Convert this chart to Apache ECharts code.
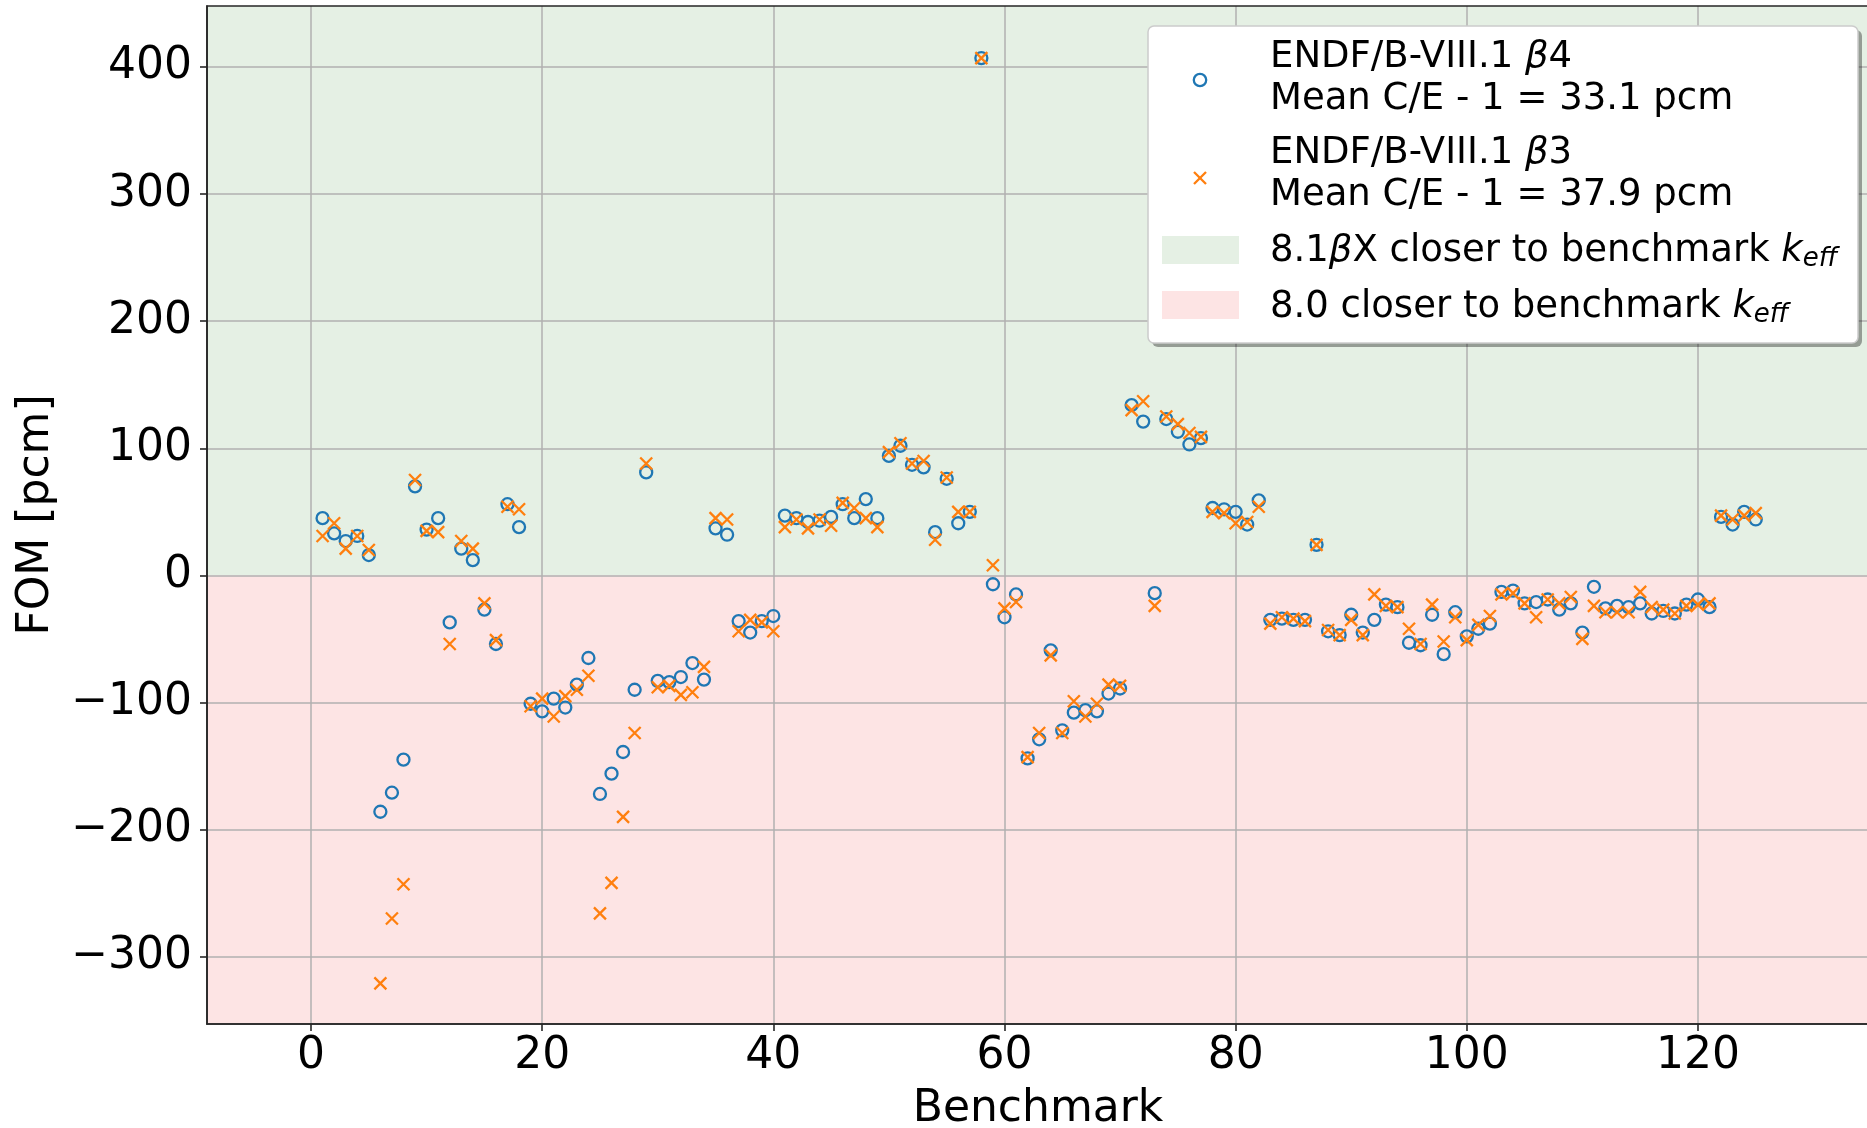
<!DOCTYPE html>
<html>
<head>
<meta charset="utf-8">
<script src="https://cdn.jsdelivr.net/npm/echarts@6/dist/echarts.min.js"></script>
<style>
html,body{margin:0;padding:0;background:#ffffff;}
#chart{width:1867px;height:1128px;}
</style>
</head>
<body>
<div id="chart"></div>
<script>
// ---------------- data ----------------
const benchmarks = [1,2,3,4,5,6,7,8,9,10,11,12,13,14,15,16,17,18,19,20,21,22,23,24,25,26,27,28,29,30,31,32,33,34,35,36,37,38,39,40,41,42,43,44,45,46,47,48,49,50,51,52,53,54,55,56,57,58,59,60,61,62,63,64,65,66,67,68,69,70,71,72,73,74,75,76,77,78,79,80,81,82,83,84,85,86,87,88,89,90,91,92,93,94,95,96,97,98,99,100,101,102,103,104,105,106,107,108,109,110,111,112,113,114,115,116,117,118,119,120,121,122,123,124,125];

const beta4 = [45,33,27,31,16,-186,-171,-145,70,36,45,-37,21,12,-27,-54,56,38,-101,-107,
  -97,-104,-86,-65,-172,-156,-139,-90,81,-83,-84,-80,-69,-82,37,32,-36,-45,-36,-32,
  47,45,42,43,46,56,45,60,45,94,102,87,85,34,76,41,50,407,-7,-33,
  -15,-144,-129,-59,-122,-108,-106,-107,-93,-89,134,121,-14,123,113,103,108,53,52,50,
  40,59,-35,-34,-35,-35,24,-44,-47,-31,-45,-35,-23,-25,-53,-55,-31,-62,-29,-48,
  -42,-38,-13,-12,-22,-21,-19,-27,-22,-45,-9,-26,-24,-25,-22,-30,-28,-30,-23,-19,
  -25,46,40,50,44];

const beta3 = [31,41,21,31,20,-321,-270,-243,75,35,34,-54,27,21,-22,-51,54,52,-103,-97,
  -111,-95,-90,-79,-266,-242,-190,-124,88,-88,-87,-94,-92,-72,45,44,-44,-35,-37,-44,
  38,44,37,44,39,57,53,45,38,97,104,88,90,28,77,50,50,407,8,-26,
  -21,-143,-124,-63,-124,-99,-111,-101,-86,-87,130,137,-24,125,119,112,109,50,49,41,
  42,54,-38,-33,-34,-36,24,-43,-47,-35,-47,-15,-24,-25,-42,-54,-23,-52,-33,-51,
  -39,-32,-15,-14,-22,-33,-19,-22,-17,-50,-24,-29,-29,-29,-13,-25,-27,-30,-24,-23,
  -22,47,44,47,49];

const xTicks = [0,20,40,60,80,100,120];
const yTicks = [-300,-200,-100,0,100,200,300,400];

const seriesNames = ['ENDF/B-VIII.1 \u03b24', 'ENDF/B-VIII.1 \u03b23'];
const meanLabels = ['Mean C/E - 1 = 33.1 pcm', 'Mean C/E - 1 = 37.9 pcm'];

// ---------------- styling ----------------
const X_MIN = -9, X_MAX = 134.8;
const Y_MIN = -353, Y_MAX = 448;
const BLUE = '#1f77b4', ORANGE = '#ff7f0e';
const GREEN_BG = '#e5f0e4', RED_BG = '#fde4e4';
const FONT = 'DejaVu Sans';

const chart = echarts.init(document.getElementById('chart'), null, {renderer: 'canvas'});

const toPairs = (vals) => benchmarks.map((b, i) => [b, vals[i]]);
const minusFmt = (v) => String(v).replace('-', '\u2212');

const legendRich = {
  n: {fontFamily: FONT, fontSize: 37, fill: '#000', lineHeight: 42},
  i: {fontFamily: FONT, fontSize: 37, fontStyle: 'italic', fill: '#000', lineHeight: 42},
  s: {fontFamily: FONT, fontSize: 26, fontStyle: 'italic', fill: '#000', lineHeight: 22, verticalAlign: 'bottom'}
};

const option = {
  animation: false,
  backgroundColor: '#ffffff',
  grid: {
    left: 207, top: 6, right: -2, bottom: 104,
    containLabel: false,
    outerBoundsMode: 'none',
    show: true, z: 3,
    backgroundColor: 'transparent',
    borderColor: '#262626', borderWidth: 1.6
  },
  xAxis: {
    type: 'value',
    min: X_MIN, max: X_MAX,
    minInterval: 20, maxInterval: 20,
    z: 1.5,
    name: 'Benchmark',
    nameLocation: 'middle',
    nameGap: 64,
    nameTextStyle: {fontFamily: FONT, fontSize: 44, color: '#000'},
    axisLine: {show: true, onZero: false, lineStyle: {color: '#262626', width: 1.6}},
    axisTick: {show: true, length: 7, inside: false, customValues: xTicks, lineStyle: {color: '#262626', width: 1.6}},
    axisLabel: {show: true, margin: 11, customValues: xTicks, fontFamily: FONT, fontSize: 44, color: '#000',
                showMinLabel: true, showMaxLabel: true, formatter: minusFmt},
    splitLine: {show: true, lineStyle: {color: '#b0b0b0', width: 1.5}}
  },
  yAxis: {
    type: 'value',
    min: Y_MIN, max: Y_MAX,
    minInterval: 100, maxInterval: 100,
    z: 1.5,
    name: 'FOM [pcm]',
    nameLocation: 'middle',
    nameGap: 148,
    nameTextStyle: {fontFamily: FONT, fontSize: 44, color: '#000'},
    axisLine: {show: true, onZero: false, lineStyle: {color: '#262626', width: 1.6}},
    axisTick: {show: true, length: 7, inside: false, customValues: yTicks, lineStyle: {color: '#262626', width: 1.6}},
    axisLabel: {show: true, margin: 15, customValues: yTicks, fontFamily: FONT, fontSize: 44, color: '#000',
                formatter: minusFmt},
    splitLine: {show: true, lineStyle: {color: '#b0b0b0', width: 1.5}}
  },
  series: [
    {
      name: 'background',
      type: 'scatter',
      data: [],
      silent: true,
      z: 0,
      markArea: {
        silent: true,
        data: [
          [{xAxis: X_MIN, yAxis: 0, itemStyle: {color: GREEN_BG}}, {xAxis: X_MAX, yAxis: Y_MAX}],
          [{xAxis: X_MIN, yAxis: Y_MIN, itemStyle: {color: RED_BG}}, {xAxis: X_MAX, yAxis: 0}]
        ]
      }
    },
    {
      name: seriesNames[0],
      type: 'scatter',
      data: toPairs(beta4),
      symbol: 'circle',
      symbolSize: 12,
      z: 2,
      itemStyle: {color: 'rgba(0,0,0,0)', borderColor: BLUE, borderWidth: 2.3, opacity: 1},
      emphasis: {disabled: true}
    },
    {
      name: seriesNames[1],
      type: 'scatter',
      data: toPairs(beta3),
      symbol: 'path://M0,0L10,10M10,0L0,10',
      symbolSize: 12,
      z: 2,
      itemStyle: {color: 'rgba(0,0,0,0)', borderColor: ORANGE, borderWidth: 2.3, opacity: 1},
      emphasis: {disabled: true}
    }
  ],
  graphic: [
    {type: 'rect', z: 100, shape: {x: 1152, y: 30, width: 710, height: 317, r: 6},
     style: {fill: 'rgba(0,0,0,0.35)'}},
    {type: 'rect', z: 101, shape: {x: 1148, y: 26, width: 710, height: 317, r: 6},
     style: {fill: '#ffffff', stroke: '#cccccc', lineWidth: 1.5}},
    {type: 'circle', z: 102, shape: {cx: 1200, cy: 80, r: 6.2},
     style: {fill: 'none', stroke: BLUE, lineWidth: 2.3}},
    {type: 'line', z: 102, shape: {x1: 1194, y1: 172, x2: 1206, y2: 184},
     style: {stroke: ORANGE, lineWidth: 2.3}},
    {type: 'line', z: 102, shape: {x1: 1206, y1: 172, x2: 1194, y2: 184},
     style: {stroke: ORANGE, lineWidth: 2.3}},
    {type: 'rect', z: 102, shape: {x: 1162, y: 236, width: 77, height: 28},
     style: {fill: GREEN_BG}},
    {type: 'rect', z: 102, shape: {x: 1162, y: 291, width: 77, height: 28},
     style: {fill: RED_BG}},
    {type: 'text', z: 102, x: 1270, y: 78,
     style: {text: '{n|ENDF/B-VIII.1 }{i|\u03b2}{n|4}\n{n|' + meanLabels[0] + '}', rich: legendRich,
             verticalAlign: 'middle', align: 'left'}},
    {type: 'text', z: 102, x: 1270, y: 174,
     style: {text: '{n|ENDF/B-VIII.1 }{i|\u03b2}{n|3}\n{n|' + meanLabels[1] + '}', rich: legendRich,
             verticalAlign: 'middle', align: 'left'}},
    {type: 'text', z: 102, x: 1270, y: 251,
     style: {text: '{n|8.1}{i|\u03b2}{n|X closer to benchmark }{i|k}{s|eff}', rich: legendRich,
             verticalAlign: 'middle', align: 'left'}},
    {type: 'text', z: 102, x: 1270, y: 307,
     style: {text: '{n|8.0 closer to benchmark }{i|k}{s|eff}', rich: legendRich,
             verticalAlign: 'middle', align: 'left'}}
  ]
};

chart.setOption(option);
</script>
</body>
</html>
